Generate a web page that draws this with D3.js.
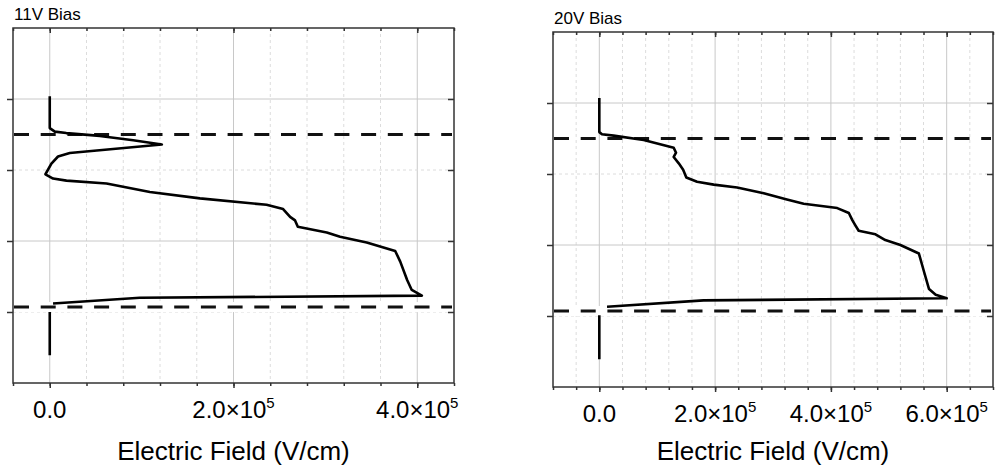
<!DOCTYPE html>
<html>
<head>
<meta charset="utf-8">
<script src="https://cdn.jsdelivr.net/npm/d3@7"></script>
<style>
  body { margin: 0; background: #fff; }
  svg text { font-family: Arial, "Liberation Sans", sans-serif; fill: #000; }
</style>
</head>
<body>
<svg id="chart" width="995" height="468"></svg>
<script>
// field profiles (V/cm vs depth, arbitrary units top->bottom)
// null marks the break hidden behind the lower junction line
var field11 = [0, 0, 5500, 18000, 54500, 90800, 122000, 21800, 9000, 1800, -4700, 3600, 18200, 61800, 109000, 163500,
  236000, 254000, 261600, 267000, 270000, 301500, 316000, 345000, 376000, 381500, 389000, 394000, 405000, 98000, 3600,
  null, 0, 0]
var depth11 = [0.96, 1.41, 1.46, 1.48, 1.52, 1.58, 1.64, 1.76, 1.81, 1.91, 2.06, 2.12, 2.15, 2.19, 2.31, 2.40,
  2.49, 2.55, 2.66, 2.71, 2.80, 2.88, 2.94, 3.02, 3.14, 3.29, 3.55, 3.69, 3.77, 3.80, 3.88,
  null, 4.00, 4.61]

var field20 = [0, 0, 4600, 24700, 76600, 128500, 132500, 128500, 137200, 144800, 150300, 168800, 197600, 238000, 284000, 324000,
  353000, 411000, 431000, 437000, 442000, 448000, 477000, 494000, 520000, 552000, 561000, 569500, 581000, 600000, 180000, 13300,
  null, 0, 0]
var depth20 = [0.93, 1.41, 1.44, 1.46, 1.52, 1.63, 1.70, 1.76, 1.85, 1.94, 2.05, 2.11, 2.15, 2.19, 2.27, 2.36,
  2.42, 2.48, 2.55, 2.65, 2.72, 2.80, 2.85, 2.93, 3.00, 3.12, 3.38, 3.62, 3.70, 3.75, 3.78, 3.87,
  null, 3.99, 4.61]

var junctions = [1.50, 3.93]
var depthTicks = [1, 2, 3, 4]
var depthMajor = [1, 3]

var panels = [
  { title: "11V Bias", field: field11, depth: depth11, xDomain: [-4e4, 4.4e5], majors: [0, 2e5, 4e5],
    left: 13, right: 454, top: 28, bottom: 383 },
  { title: "20V Bias", field: field20, depth: depth20, xDomain: [-8e4, 6.8e5], majors: [0, 2e5, 4e5, 6e5],
    left: 553, right: 993, top: 32, bottom: 387 }
]

var svg = d3.select("#chart")

panels.forEach(function (p) {
  var xScale = d3.scaleLinear().domain(p.xDomain).range([p.left, p.right])
  var yScale = d3.scaleLinear().domain([0, 5]).range([p.top, p.bottom])
  var minors = d3.range(p.xDomain[0], p.xDomain[1] + 1, 4e4)
  var g = svg.append("g")

  // grid
  g.selectAll(".vgrid").data(minors.filter(v => v > p.xDomain[0] && v < p.xDomain[1]))
    .enter().append("line")
    .attr("x1", d => xScale(d)).attr("x2", d => xScale(d))
    .attr("y1", p.top).attr("y2", p.bottom)
    .attr("stroke", d => p.majors.indexOf(d) >= 0 ? "#c8c8c8" : "#dcdcdc")
    .attr("stroke-dasharray", d => p.majors.indexOf(d) >= 0 ? null : "3,3")
    .attr("stroke-width", 1)

  g.selectAll(".hgrid").data(depthTicks)
    .enter().append("line")
    .attr("x1", p.left).attr("x2", p.right)
    .attr("y1", d => yScale(d)).attr("y2", d => yScale(d))
    .attr("stroke", d => depthMajor.indexOf(d) >= 0 ? "#c8c8c8" : "#dcdcdc")
    .attr("stroke-dasharray", d => depthMajor.indexOf(d) >= 0 ? null : "3,3")
    .attr("stroke-width", 1)

  // white strip behind lower junction line
  g.append("rect")
    .attr("x", p.left + 1).attr("width", p.right - p.left - 2)
    .attr("y", yScale(junctions[1]) - 5).attr("height", 10)
    .attr("fill", "#fff")

  // junction lines
  g.selectAll(".junction").data(junctions)
    .enter().append("line")
    .attr("x1", p.left + 1).attr("x2", p.right - 2)
    .attr("y1", d => yScale(d)).attr("y2", d => yScale(d))
    .attr("stroke", "#111")
    .attr("stroke-width", 3)
    .attr("stroke-dasharray", "15,11.7")

  // field curve
  var pts = p.field.map((f, i) => [f, p.depth[i]])
  var line = d3.line()
    .defined(d => d[0] !== null)
    .x(d => xScale(d[0]))
    .y(d => yScale(d[1]))
  g.append("path")
    .datum(pts)
    .attr("d", line)
    .attr("fill", "none")
    .attr("stroke", "#000")
    .attr("stroke-width", 2.6)
    .attr("stroke-linejoin", "round")

  // axes
  var bottomAxis = d3.axisBottom(xScale).tickValues(minors).tickFormat("").tickSize(3)
  var bottomMajor = d3.axisBottom(xScale).tickValues(p.majors).tickFormat("").tickSize(5)
  var topAxis = d3.axisBottom(xScale).tickValues(minors).tickFormat("").tickSize(3)
  var topMajor = d3.axisBottom(xScale).tickValues(p.majors).tickFormat("").tickSize(5)
  var leftAxis = d3.axisLeft(yScale).tickValues(depthTicks).tickFormat("").tickSize(6)
  var rightAxis = d3.axisLeft(yScale).tickValues(depthTicks).tickFormat("").tickSize(6)

  var axes = [
    [bottomAxis, `translate(0,${p.bottom})`], [bottomMajor, `translate(0,${p.bottom})`],
    [topAxis, `translate(0,${p.top})`], [topMajor, `translate(0,${p.top})`],
    [leftAxis, `translate(${p.left},0)`], [rightAxis, `translate(${p.right},0)`]
  ]
  axes.forEach(function (a) {
    var ag = g.append("g").attr("transform", a[1]).call(a[0])
    ag.select(".domain").remove()
    ag.selectAll("line").attr("stroke", "#333").attr("stroke-width", 1.5)
  })

  // frame
  g.append("rect")
    .attr("x", p.left).attr("y", p.top)
    .attr("width", p.right - p.left).attr("height", p.bottom - p.top)
    .attr("fill", "none").attr("stroke", "#333").attr("stroke-width", 1.5)

  // tick labels
  var labels = g.selectAll(".tl").data(p.majors).enter().append("text")
    .attr("x", d => xScale(d))
    .attr("y", p.bottom + 35)
    .attr("text-anchor", "middle")
    .style("font-size", "24px")
  labels.each(function (d) {
    var t = d3.select(this)
    if (d === 0) { t.text("0.0"); return }
    t.append("tspan").text((d / 1e5).toFixed(1) + "×10")
    t.append("tspan").attr("dy", -10).style("font-size", "15px").text("5")
  })

  g.append("text")
    .attr("x", (p.left + p.right) / 2)
    .attr("y", 460)
    .attr("text-anchor", "middle")
    .style("font-size", "26px")
    .text("Electric Field (V/cm)")

  g.append("text")
    .attr("x", p.left + 1)
    .attr("y", p.top - 8)
    .style("font-size", "17px")
    .text(p.title)
})
</script>
</body>
</html>
